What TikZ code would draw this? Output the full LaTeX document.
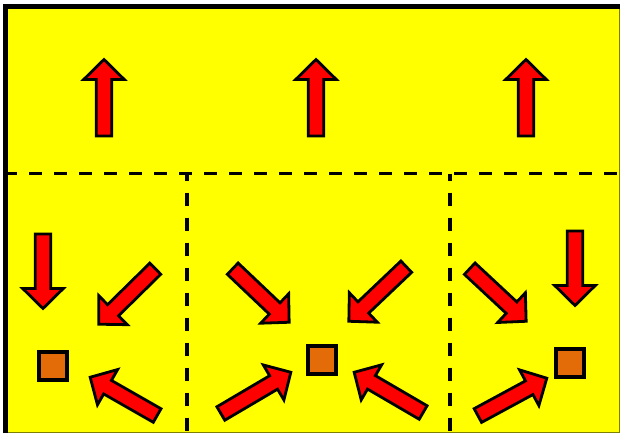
\documentclass[tikz,border=0pt]{standalone}
\usetikzlibrary{calc}
\definecolor{bgyellow}{HTML}{FFFF00}
\definecolor{arrred}{HTML}{FF0000}
\definecolor{sqorange}{HTML}{E36C09}
\definecolor{edgeolive}{HTML}{808000}
\tikzset{
  arr/.style={draw=black, fill=arrred, line width=2.8pt, line join=miter, miter limit=4},
  sq/.style={draw=black, fill=sqorange, line width=4.2pt, minimum size=28pt, inner sep=0pt, outer sep=0pt},
  divider/.style={draw=black, line width=3.4pt, dash pattern=on 13pt off 12pt},
}
% block arrow from tail (#1,#2) to tip (#3,#4), pixel coordinates (y down)
\newcommand\blockarr[4]{%
  \pgfmathsetmacro\barang{atan2(-((#4)-(#2)),(#3)-(#1))}%
  \pgfmathsetmacro\barlen{veclen((#3)-(#1),(#4)-(#2))-2.5}%
  \pgfmathsetmacro\barneck{\barlen-20}%
  \begin{scope}[shift={(#1,#2)}, rotate=\barang]
    \path[arr] (1,-7.8) -- (\barneck,-7.8) -- (\barneck,-20.3) -- (\barlen,0)
      -- (\barneck,20.3) -- (\barneck,7.8) -- (1,7.8) -- cycle;
  \end{scope}}
\begin{document}
\begin{tikzpicture}[x=1pt,y=-1pt]
  \useasboundingbox (0,0) rectangle (620,433);
  \fill[white] (0,0) rectangle (620,433);
  \fill[bgyellow] (5,6) rectangle (620,433);
  % frame
  \draw[edgeolive, line width=1pt] (5,432.5) -- (619.5,432.5) -- (619.5,8);
  \draw[black, line width=5.5pt, line join=miter] (5.5,433) -- (5.5,6.7) -- (620,6.7);
  % dividers
  \coordinate (hL) at (8,173.5);
  \coordinate (hR) at (620,173.5);
  \coordinate (v1T) at (187,173.5);
  \coordinate (v1B) at (187,433);
  \coordinate (v2T) at (450,173.5);
  \coordinate (v2B) at (450,433);
  \path[divider, dash phase=4pt] (hL) -- (hR);
  \path[divider, dash phase=6pt] (v1T) -- (v1B);
  \path[divider, dash phase=6pt] (v2T) -- (v2B);
  % top arrows
  \blockarr{104}{137}{104}{57}
  \blockarr{316}{137}{316}{57}
  \blockarr{526}{137}{526}{57}
  % left cell
  \blockarr{43}{233}{43}{311}
  \blockarr{156}{268}{97}{326}
  \blockarr{158}{416}{88}{376}
  \node[sq] (sqL) at (53,366) {};
  % middle cell
  \blockarr{232}{268}{291}{324}
  \blockarr{407}{266}{347}{323}
  \blockarr{220}{414}{293}{371}
  \blockarr{424}{413}{352}{371}
  \node[sq] (sqM) at (322,360) {};
  % right cell
  \blockarr{469}{268}{528}{323}
  \blockarr{575}{230}{575}{308}
  \blockarr{477}{416}{549}{377}
  \node[sq] (sqR) at (570,363) {};
\end{tikzpicture}
\end{document}
